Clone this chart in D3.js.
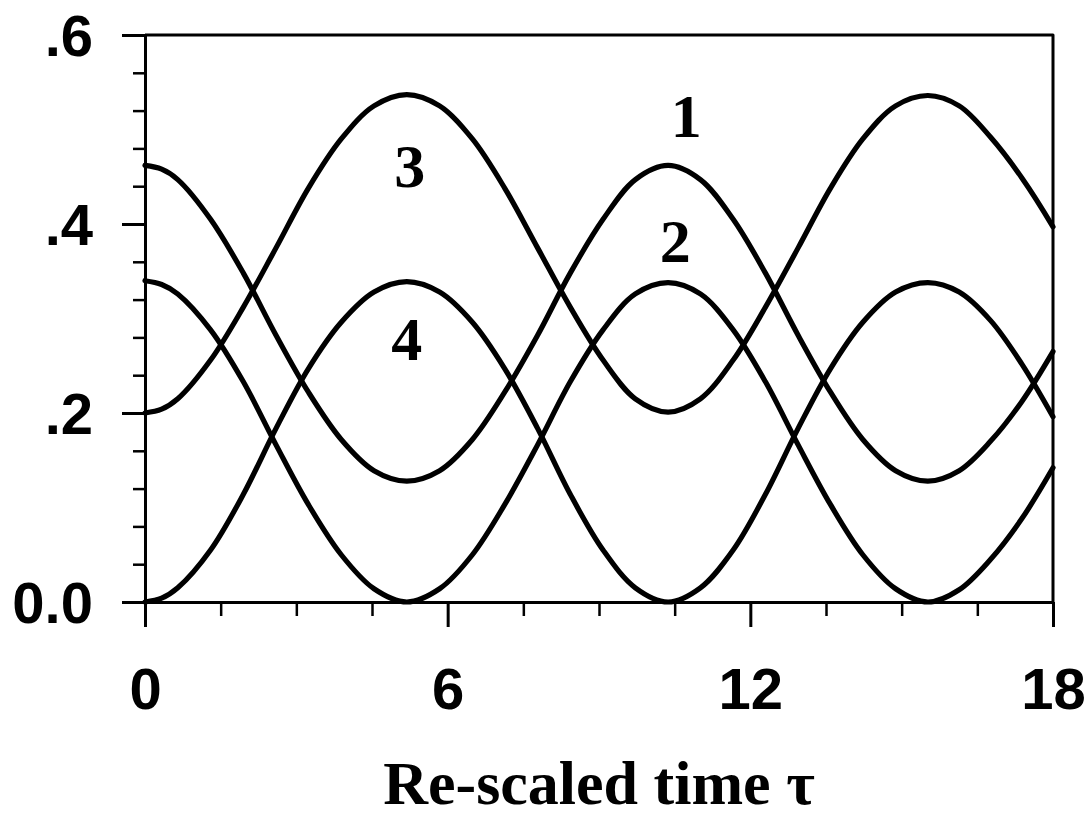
<!DOCTYPE html>
<html>
<head>
<meta charset="utf-8">
<script src="https://cdn.jsdelivr.net/npm/d3@7"></script>
<style>
	body { margin:0; background:#fff; }
	.curve { fill:none; stroke:#000; stroke-width:5.2; stroke-linejoin:round; stroke-linecap:round; }
	.axis path, .axis line { stroke:#000; stroke-width:3; }
	.minor line { stroke-width:2.5; }
	.axis text { font-family:"Liberation Sans", Arial, sans-serif; font-weight:bold; font-size:58px; fill:#000; }
	.lbl { font-family:"Liberation Serif", "Times New Roman", serif; font-weight:bold; fill:#000; }
</style>
</head>
<body>
<script>

// re-scaled time samples
var tau = [0, 0.33, 0.65, 1.30, 1.95, 2.60, 3.24, 3.89, 4.54, 5.19,
	5.84, 6.49, 7.13, 7.78, 8.43, 9.08, 9.72, 10.37,
	11.01, 11.66, 12.30, 12.95, 13.59, 14.23, 14.88, 15.52,
	16.14, 16.76, 17.38, 18.0];

// populations
var level1 = [0.462, 0.458, 0.447, 0.405, 0.348, 0.282, 0.222, 0.172, 0.139, 0.128,
	0.139, 0.172, 0.222, 0.282, 0.348, 0.405, 0.447, 0.462,
	0.447, 0.405, 0.348, 0.282, 0.222, 0.172, 0.139, 0.128,
	0.139, 0.170, 0.212, 0.265];
var level2 = [0.340, 0.336, 0.326, 0.288, 0.233, 0.166, 0.103, 0.050, 0.014, 0.000,
	0.014, 0.050, 0.103, 0.166, 0.233, 0.288, 0.326, 0.338,
	0.326, 0.288, 0.233, 0.166, 0.103, 0.050, 0.014, 0.000,
	0.013, 0.045, 0.088, 0.142];
var level3 = [0.200, 0.204, 0.215, 0.256, 0.312, 0.375, 0.438, 0.490, 0.525, 0.537,
	0.525, 0.490, 0.438, 0.375, 0.312, 0.256, 0.215, 0.201,
	0.215, 0.256, 0.312, 0.375, 0.438, 0.490, 0.525, 0.536,
	0.525, 0.492, 0.449, 0.397];
var level4 = [0.000, 0.004, 0.015, 0.055, 0.114, 0.184, 0.247, 0.296, 0.328, 0.339,
	0.328, 0.296, 0.247, 0.184, 0.114, 0.055, 0.015, 0.000,
	0.015, 0.055, 0.114, 0.184, 0.247, 0.296, 0.328, 0.338,
	0.328, 0.298, 0.252, 0.196];

// curve labels, anchored in data units
var labelText = ["1", "2", "3", "4"];
var labelTau = [10.73, 10.51, 5.25, 5.19];
var labelValue = [0.492, 0.360, 0.439, 0.256];

// ticks
var xMajorTicks = [0, 6, 12, 18];
var xMinorTicks = [1.5, 3, 4.5, 7.5, 9, 10.5, 13.5, 15, 16.5];
var yMajorTicks = [0, 0.2, 0.4, 0.6];
var yTickLabels = ["0.0", ".2", ".4", ".6"];
var yMinorTicks = [0.04, 0.08, 0.12, 0.16, 0.24, 0.28, 0.32, 0.36, 0.44, 0.48, 0.52, 0.56];

var xTitle = "Re-scaled time \u03c4";

var buildGraph = ()=>{

	var width = 1090, height = 818;
	var margin = {top: 35, right: 37, bottom: 216, left: 145};

	var svg = d3.select("body").append("svg")
		.attr("width", width)
		.attr("height", height);

	var x = d3.scaleLinear().domain([0, 18]).range([margin.left, width - margin.right]);
	var y = d3.scaleLinear().domain([0, 0.6]).range([height - margin.bottom, margin.top]);

	// frame: top and right sides
	svg.append("path")
		.attr("class", "curve")
		.style("stroke-width", 3)
		.style("stroke-linecap", "butt")
		.attr("d", "M" + x(0) + "," + y(0.6) + "H" + x(18) + "V" + y(0));

	// minor ticks first
	svg.append("g")
		.attr("class", "axis minor")
		.attr("transform", "translate(0," + y(0) + ")")
		.call(d3.axisBottom(x).tickValues(xMinorTicks).tickSize(14).tickSizeOuter(0).tickFormat(""))
		.select(".domain").remove();

	svg.append("g")
		.attr("class", "axis minor")
		.attr("transform", "translate(" + x(0) + ",0)")
		.call(d3.axisLeft(y).tickValues(yMinorTicks).tickSize(12).tickSizeOuter(0).tickFormat(""))
		.select(".domain").remove();

	// x axis
	var gx = svg.append("g")
		.attr("class", "axis")
		.attr("transform", "translate(0," + y(0) + ")")
		.call(d3.axisBottom(x).tickValues(xMajorTicks).tickSize(25).tickSizeOuter(0).tickFormat(d3.format("d")));
	gx.selectAll("text").attr("y", 107).attr("dy", null);

	// y axis
	var gy = svg.append("g")
		.attr("class", "axis")
		.attr("transform", "translate(" + x(0) + ",0)")
		.call(d3.axisLeft(y).tickValues(yMajorTicks).tickSize(23).tickSizeOuter(0)
			.tickFormat((d, i)=>{ return yTickLabels[i]; }));
	gy.selectAll("text").attr("x", -52).attr("dy", "0.36em");

	// the four curves
	var line = d3.line()
		.x(function(d){ return x(d[0]); })
		.y(function(d){ return y(d[1]); })
		.curve(d3.curveCatmullRom.alpha(0.5));

	var series = [level1, level2, level3, level4];
	for(var i = 0; i < series.length; i++){
		svg.append("path")
			.datum(tau.map((t, j)=>[t, series[i][j]]))
			.attr("class", "curve")
			.attr("d", line);
	}

	// labels on the curves
	for(var k = 0; k < labelText.length; k++){
		svg.append("text")
			.attr("class", "lbl")
			.attr("x", x(labelTau[k]))
			.attr("y", y(labelValue[k]))
			.attr("text-anchor", "middle")
			.style("font-size", "62px")
			.text(labelText[k]);
	}

	// axis title
	svg.append("text")
		.attr("class", "lbl")
		.attr("x", (x(0) + x(18)) / 2)
		.attr("y", 804)
		.attr("text-anchor", "middle")
		.style("font-size", "62px")
		.text(xTitle);
};

buildGraph();
</script>
</body>
</html>
